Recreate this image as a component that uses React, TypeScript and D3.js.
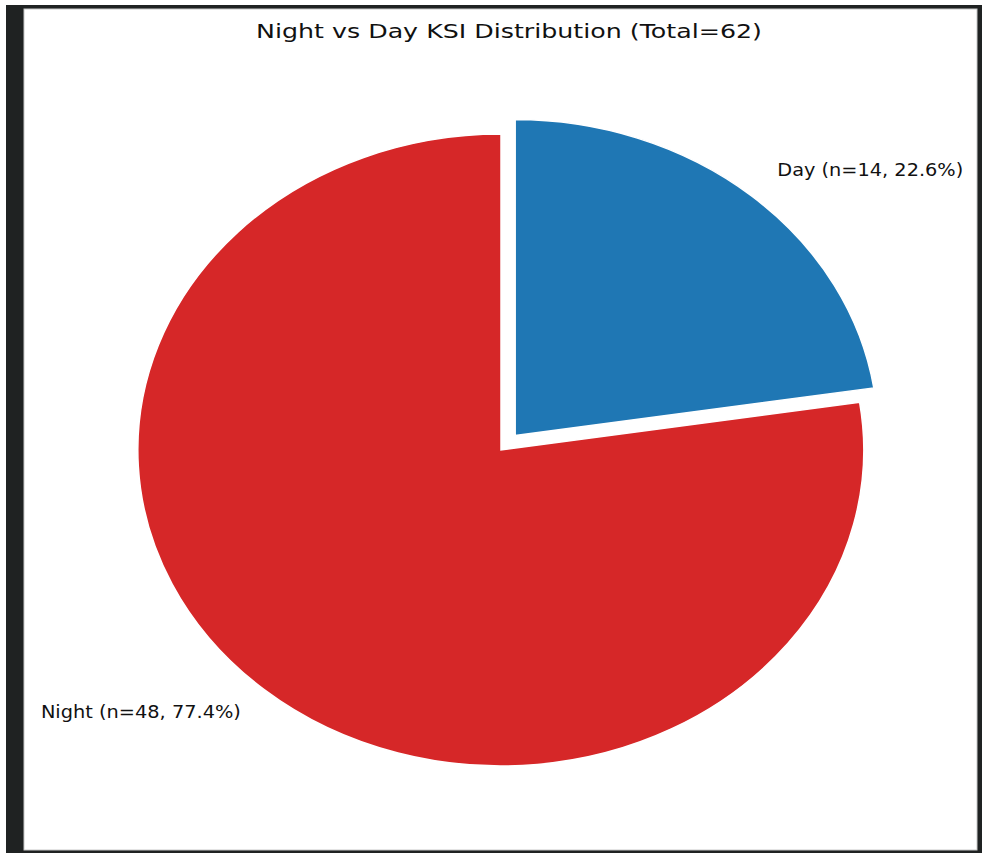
import React from "react";
import * as d3 from "d3";

const categories = ["Day", "Night"];
const counts = [14, 48];
const colors = ["#1f77b4", "#d62728"];
const explode = [0.06, 0];
const titleText = "Night vs Day KSI Distribution (Total=62)";

const W = 982;
const H = 853;
const cx = 501;
const cy = 450;
const rx = 363;
const ry = 316;

export default function App() {
  const total = d3.sum(counts);
  const pie = d3.pie<number>().sort(null).value((d) => d);
  const arcs = pie(counts);
  const arc = d3.arc<d3.PieArcDatum<number>>().innerRadius(0).outerRadius(1);
  const sx = d3.scaleLinear().domain([-1, 1]).range([cx - rx, cx + rx]);
  const sy = d3.scaleLinear().domain([-1, 1]).range([cy + ry, cy - ry]);

  return (
    <svg
      width={W}
      height={H}
      style={{ position: "absolute", left: 0, top: 0, background: "#fff" }}
      fontFamily="DejaVu Sans, sans-serif"
    >
      <rect x={6} y={5} width={976} height={848} fill="#1f2222" />
      <rect x={24} y={9} width={953} height={841} fill="#fff" stroke="#c8c8c8" strokeWidth={1} />
      <text x={509} y={38} textAnchor="middle" fontSize={20} fill="#111" textLength={506} lengthAdjust="spacingAndGlyphs">
        {titleText}
      </text>
      {arcs.map((a, i) => {
        const mid = (a.startAngle + a.endAngle) / 2;
        const ex = explode[i] * Math.sin(mid);
        const ey = explode[i] * Math.cos(mid);
        const ox = sx(ex) - cx;
        const oy = sy(ey) - cy;
        const lx = sx(ex + 1.1 * Math.sin(mid));
        const ly = sy(ey + 1.1 * Math.cos(mid));
        const right = Math.sin(mid) > 0;
        const label = `${categories[i]} (n=${counts[i]}, ${((counts[i] / total) * 100).toFixed(1)}%)`;
        return (
          <g key={categories[i]}>
            <path
              d={arc(a) || ""}
              transform={`translate(${cx + ox},${cy + oy}) scale(${rx},${ry})`}
              fill={colors[i]}
              stroke="#fff"
              strokeWidth={1.5}
              strokeLinejoin="miter"
              vectorEffect="non-scaling-stroke"
            />
            <text
              x={right ? lx + 2 : lx}
              y={ly - 2}
              dy="0.35em"
              textAnchor={right ? "start" : "end"}
              fontSize={17}
              fill="#111"
              textLength={right ? 186 : 200}
              lengthAdjust="spacingAndGlyphs"
            >
              {label}
            </text>
          </g>
        );
      })}
    </svg>
  );
}
